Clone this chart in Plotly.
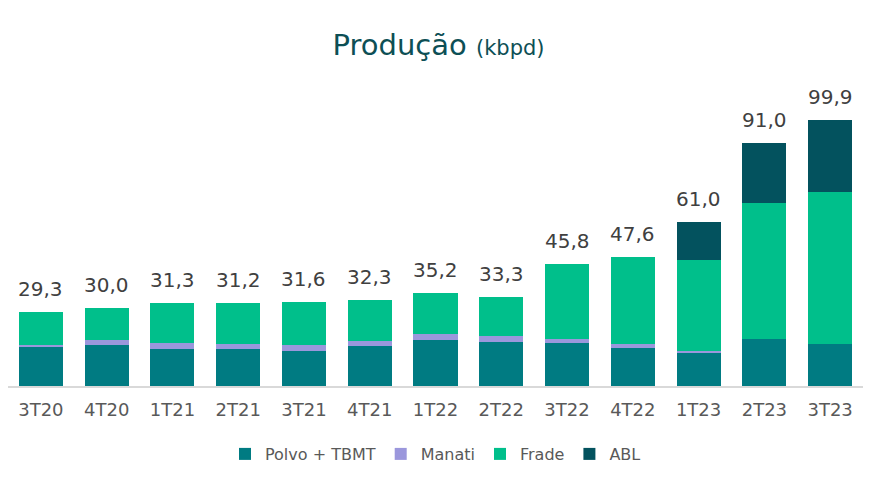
import plotly.graph_objects as go

categories = ["3T20", "4T20", "1T21", "2T21", "3T21", "4T21", "1T22", "2T22", "3T22", "4T22", "1T23", "2T23", "3T23"]
polvo_tbmt = [14.5, 15.5, 13.9, 13.8, 13.0, 15.1, 17.3, 16.6, 16.2, 14.2, 12.3, 17.4, 15.7]
manati = [0.9, 1.8, 2.2, 1.9, 2.4, 1.9, 2.0, 2.0, 1.5, 1.5, 0.9, 0.0, 0.0]
frade = [12.4, 11.7, 15.1, 15.2, 16.2, 15.1, 15.5, 14.7, 28.1, 32.5, 33.8, 50.9, 56.9]
abl = [0, 0, 0, 0, 0, 0, 0, 0, 0, 0, 14.2, 22.6, 26.9]
total_labels = ["29,3", "30,0", "31,3", "31,2", "31,6", "32,3", "35,2", "33,3", "45,8", "47,6", "61,0", "91,0", "99,9"]

font_family = "DejaVu Sans, sans-serif"

fig = go.Figure()
series = [
    ("Polvo + TBMT", polvo_tbmt, "#007B82"),
    ("Manati", manati, "#9B97DC"),
    ("Frade", frade, "#00BF8B"),
    ("ABL", abl, "#03525E"),
]
for name, vals, color in series:
    fig.add_trace(go.Bar(
        x=categories, y=vals, name=name,
        marker=dict(color=color, line=dict(width=0)),
        hoverinfo="y+name",
    ))

stack_tops = [a + b + c + d for a, b, c, d in zip(polvo_tbmt, manati, frade, abl)]
for cat, top, lab in zip(categories, stack_tops, total_labels):
    fig.add_annotation(
        x=cat, y=top, text=lab, showarrow=False,
        yanchor="bottom", yshift=9,
        font=dict(family=font_family, size=20, color="#404040"),
    )

fig.update_layout(
    width=877, height=481,
    margin=dict(l=8, r=14, t=92, b=95),
    paper_bgcolor="white", plot_bgcolor="white",
    barmode="stack", bargap=0.33,
    title=dict(
        text="Produção <span style='font-size:21px'>(kbpd)</span>",
        x=0.5, xanchor="center", y=1 - 45 / 481, yanchor="middle",
        font=dict(family=font_family, size=29, color="#0D4F55"),
    ),
    font=dict(family=font_family, color="#595959"),
    showlegend=True,
    legend=dict(
        orientation="h", x=0.5, xanchor="center",
        yref="container", y=1 - 454 / 481, yanchor="middle",
        font=dict(family=font_family, size=16, color="#595959"),
        traceorder="normal",
    ),
    xaxis=dict(
        showline=True, linecolor="#D9D9D9", linewidth=2,
        ticks="", showgrid=False, ticklabelstandoff=6,
        tickfont=dict(family=font_family, size=18, color="#595959"),
    ),
    yaxis=dict(
        range=[0, 110], visible=False, showgrid=False, zeroline=False,
    ),
)

fig.write_html("out.html")
